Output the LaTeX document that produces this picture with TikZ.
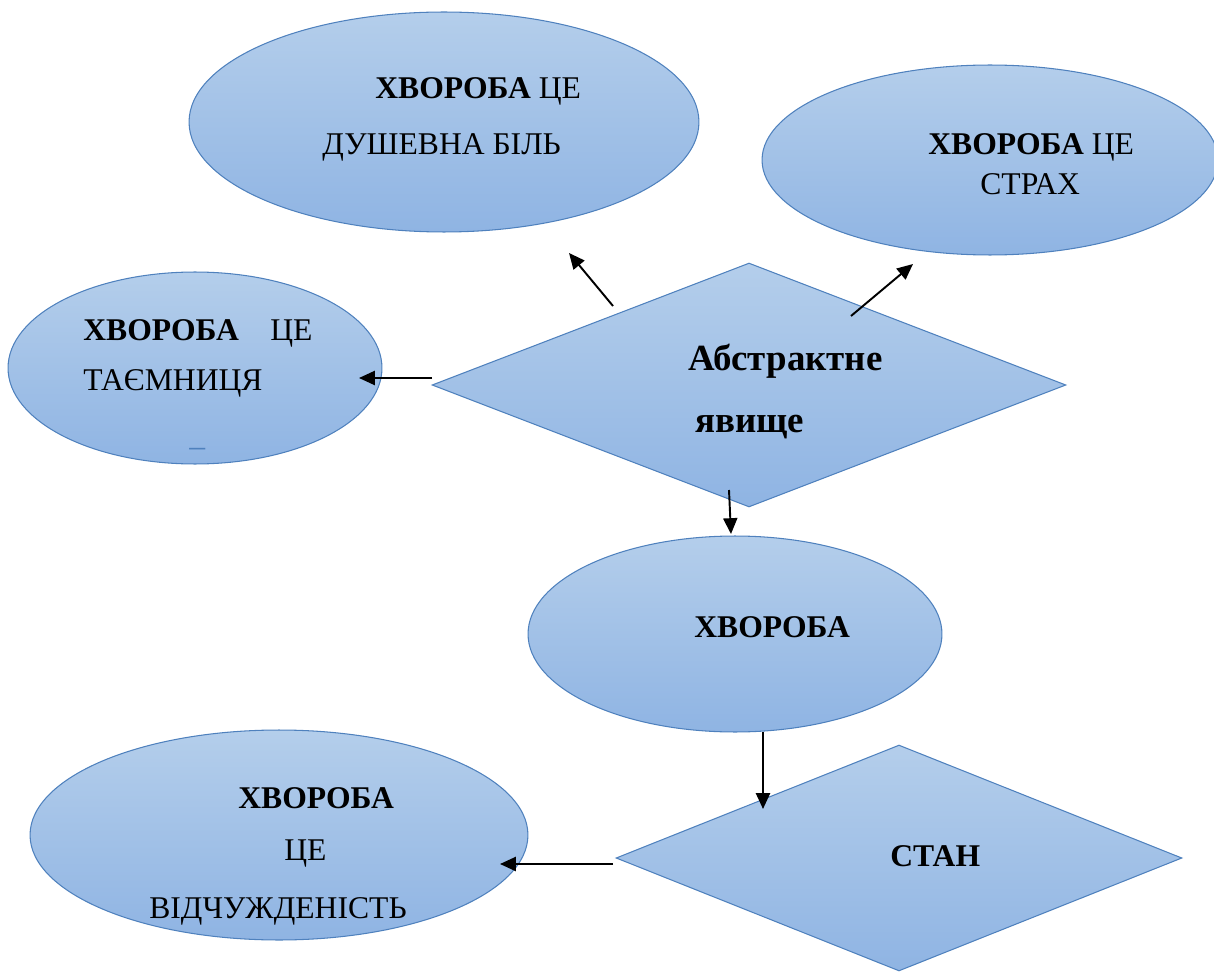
\documentclass[tikz,border=0pt]{standalone}
\usepackage{fontspec}
\setmainfont{Liberation Serif}
\usetikzlibrary{shapes.geometric,arrows.meta}
\definecolor{blobtop}{RGB}{180,206,235}
\definecolor{blobbot}{RGB}{143,180,227}
\definecolor{blobline}{RGB}{79,129,189}
\tikzset{
    blob/.style={
        ellipse, draw=blobline, line width=0.6pt,
        top color=blobtop, bottom color=blobbot,
        inner sep=0pt
    },
    rhomb/.style={
        diamond, draw=blobline, line width=0.6pt,
        top color=blobtop, bottom color=blobbot,
        inner sep=0pt
    }
}

\begin{document}
\begin{tikzpicture}[
        x=0.02cm, y=-0.02cm,
        word/.style={anchor=base west, inner sep=0pt, font=\fontsize{18}{21}\selectfont},
        bigword/.style={word, font=\fontsize{21}{25}\selectfont\bfseries},
        link/.style={-{Triangle[length=9pt,width=8pt]}, line width=1.1pt}
      ]
  \useasboundingbox (0,0) rectangle (1214,973);

  % shapes
  \node[blob, minimum width=10.2cm, minimum height=4.4cm]  (pain)    at (444,122) {};
  \node[blob, minimum width=9.12cm, minimum height=3.8cm]  (fear)    at (990,160) {};
  \node[blob, minimum width=7.48cm, minimum height=3.84cm] (mystery) at (195,368) {};
  \node[rhomb, minimum width=12.68cm, minimum height=4.88cm] (abstr) at (749,385) {};
  \node[blob, minimum width=8.28cm, minimum height=3.92cm] (illness) at (735,634) {};
  \node[rhomb, minimum width=11.32cm, minimum height=4.52cm] (state) at (899,858) {};
  \node[blob, minimum width=9.96cm, minimum height=4.2cm]  (alien)   at (279,835) {};

  % texts
  \node[word] (painA) at (375,99)  {\textbf{ХВОРОБА} ЦЕ};
  \node[word] (painB) at (322,155) {ДУШЕВНА БІЛЬ};
  \node[word] (fearA) at (928,155) {\textbf{ХВОРОБА} ЦЕ};
  \node[word] (fearB) at (980,195) {СТРАХ};
  \node[word] (mystA) at (83,340)  {\textbf{ХВОРОБА}};
  \node[word] (mystB) at (270,340) {ЦЕ};
  \node[word] (mystC) at (83,390)  {ТАЄМНИЦЯ};
  \node[word, text=blobline] (mystD) at (189,456) {–};
  \node[bigword] (abstrA) at (688,370) {Абстрактне};
  \node[bigword] (abstrB) at (695,432) {явище};
  \node[word] (illA)  at (694,637) {\textbf{ХВОРОБА}};
  \node[word] (stateA) at (890,866) {\textbf{СТАН}};
  \node[word] (alienA) at (238,808) {\textbf{ХВОРОБА}};
  \node[word] (alienB) at (284,860) {ЦЕ};
  \node[word] (alienC) at (149,918) {ВІДЧУЖДЕНІСТЬ};

  % arrow ends
  \coordinate (toPain)    at (569,253);
  \coordinate (fromAbsA)  at (613,306);
  \coordinate (toFear)    at (913,264);
  \coordinate (fromAbsB)  at (851,316);
  \coordinate (fromAbsC)  at (432,378);
  \coordinate (toMystery) at (359,378);
  \coordinate (fromAbsD)  at (729,490);
  \coordinate (toIllness) at (731,534);
  \coordinate (fromIll)   at (763,732);
  \coordinate (toState)   at (763,809);
  \coordinate (fromState) at (613,864);
  \coordinate (toAlien)   at (500,864);

  \draw[link] (fromAbsA) -- (toPain);
  \draw[link] (fromAbsB) -- (toFear);
  \draw[link] (fromAbsC) -- (toMystery);
  \draw[link] (fromAbsD) -- (toIllness);
  \draw[link] (fromIll) -- (toState);
  \draw[link] (fromState) -- (toAlien);

\end{tikzpicture}
\end{document}
